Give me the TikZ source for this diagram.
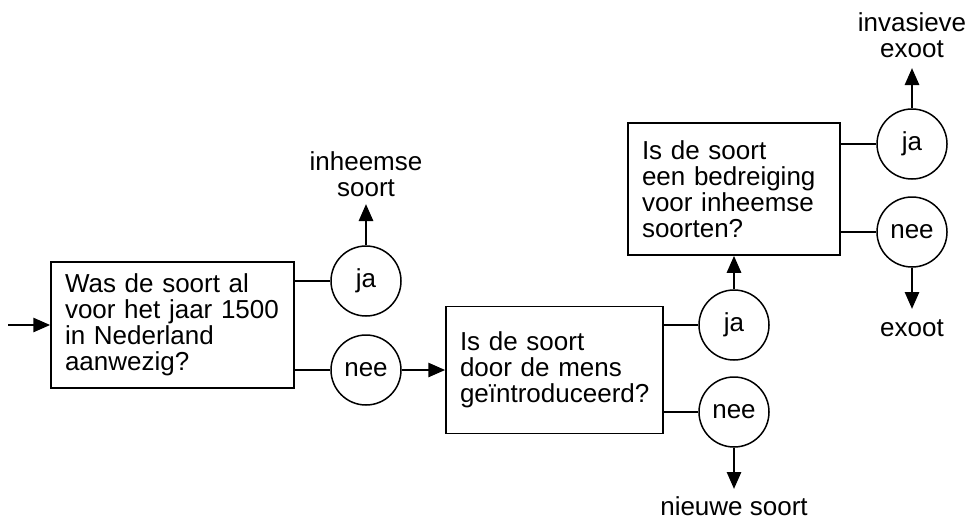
\documentclass[tikz,border=0pt]{standalone}
\usepackage{fontspec}
\setmainfont{Liberation Sans}
\usetikzlibrary{arrows.meta}
\begin{document}
\begin{tikzpicture}[x=1pt,y=-1pt,
  every node/.style={font=\fontsize{26}{26}\selectfont},
  qbox/.style={draw, line width=1.5pt, align=left, inner xsep=14pt, inner ysep=0pt},
  answer/.style={draw, circle, line width=1.5pt, minimum size=70pt, inner sep=0pt},
  link/.style={line width=2.8pt},
  flow/.style={line width=2.8pt, -{Triangle[length=17pt,width=14pt]}},
  outtext/.style={align=center, inner sep=0pt}
]
\useasboundingbox (0,0) rectangle (968,520);

% question boxes
\node[qbox, text width=215pt, minimum width=243pt, minimum height=126pt] (box1) at (172.5,325)
  {Was de soort al\\voor het jaar 1500\\in Nederland\\aanwezig?};
\node[qbox, text width=189pt, minimum width=217pt, minimum height=127pt] (box2) at (554.5,370)
  {Is de soort\\door de mens\\geïntroduceerd?};
\node[qbox, text width=184pt, minimum width=212pt, minimum height=132pt] (box3) at (734,189)
  {Is de soort\\een bedreiging\\voor inheemse\\soorten?};

% answer circles
\node[answer] (c1ja) at (366,281) {ja};
\node[answer] (c1nee) at (366,370) {nee};
\node[answer] (c2ja) at (734,325) {ja};
\node[answer] (c2nee) at (734,412) {nee};
\node[answer] (c3ja) at (912,144) {ja};
\node[answer] (c3nee) at (912,232) {nee};

% outcome texts
\node[outtext, anchor=south] (t1) at (366,197) {inheemse\\soort};
\node[outtext, anchor=base] (t2) at (734,515) {nieuwe soort};
\node[outtext, anchor=south] (t3) at (912,58) {invasieve\\exoot};
\node[outtext, anchor=base] (t4) at (912,336) {exoot};

% free ends
\coordinate (start) at (8,325);
\coordinate (e1) at (366,204);
\coordinate (e2) at (734,489);
\coordinate (e3) at (912,68);
\coordinate (e4) at (912,309);

% connectors
\draw[flow] (start) -- (box1.west |- start);
\draw[link] (box1.east |- c1ja) -- (c1ja.west);
\draw[link] (box1.east |- c1nee) -- (c1nee.west);
\draw[flow] (c1ja.north) -- (e1);
\draw[flow] (c1nee.east) -- (c1nee.east -| box2.west);

\draw[link] (box2.east |- c2ja) -- (c2ja.west);
\draw[link] (box2.east |- c2nee) -- (c2nee.west);
\draw[flow] (c2ja.north) -- (c2ja.north |- box3.south);
\draw[flow] (c2nee.south) -- (e2);

\draw[link] (box3.east |- c3ja) -- (c3ja.west);
\draw[link] (box3.east |- c3nee) -- (c3nee.west);
\draw[flow] (c3ja.north) -- (e3);
\draw[flow] (c3nee.south) -- (e4);
\end{tikzpicture}
\end{document}
